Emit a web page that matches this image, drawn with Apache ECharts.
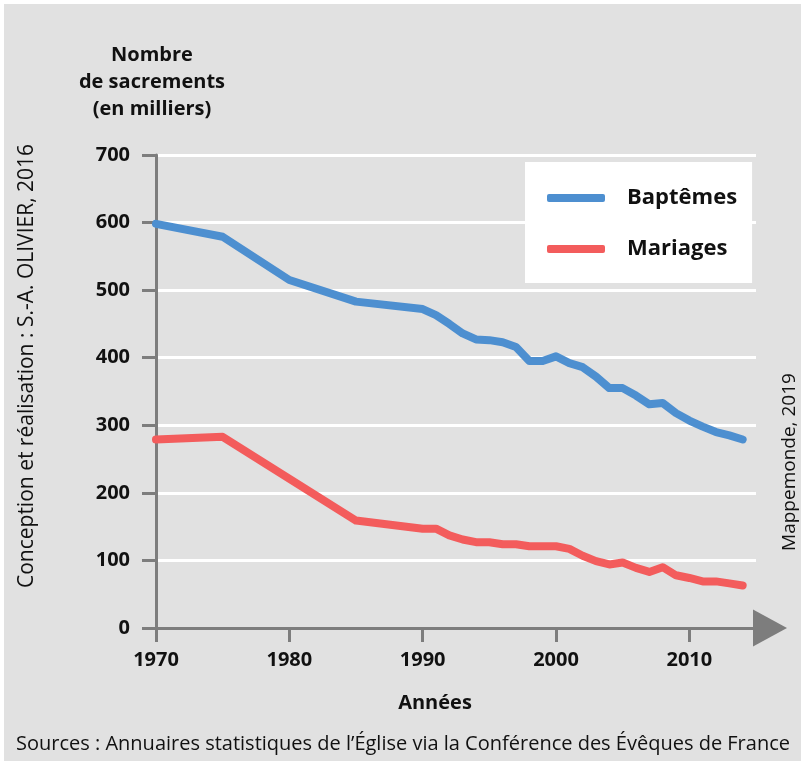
<!DOCTYPE html>
<html lang="fr">
<head>
<meta charset="utf-8">
<title>Nombre de sacrements en France, 1970-2014</title>
<script src="https://cdn.jsdelivr.net/npm/echarts@6/dist/echarts.min.js"></script>
<style>
  html, body { margin: 0; padding: 0; background: #ffffff; }
  #chart { width: 801px; height: 761px; }
</style>
</head>
<body>
<div id="chart"></div>
<script>
// Baptêmes (milliers)
const baptemeYears = [1970, 1975, 1980, 1985, 1990, 1991, 1992, 1993, 1994, 1995, 1996, 1997, 1998, 1999,
  2000, 2001, 2002, 2003, 2004, 2005, 2006, 2007, 2008, 2009, 2010, 2011, 2012, 2013, 2014];
const baptemeValues = [598, 579, 515, 483, 472, 463, 450, 436, 427, 426, 423, 416, 395, 395,
  402, 392, 386, 372, 355, 355, 344, 331, 333, 318, 307, 298, 290, 285, 279];

// Mariages (milliers)
const mariageYears = [1970, 1975, 1985, 1990, 1991, 1992, 1993, 1994, 1995, 1996, 1997, 1998, 1999,
  2000, 2001, 2002, 2003, 2004, 2005, 2006, 2007, 2008, 2009, 2010, 2011, 2012, 2013, 2014];
const mariageValues = [279, 283, 159, 147, 147, 137, 131, 127, 127, 124, 124, 121, 121,
  121, 117, 107, 99, 94, 97, 89, 83, 90, 78, 74, 69, 69, 66, 63];

const seriesNames = ['Baptêmes', 'Mariages'];
const seriesColors = ['#4d8fd0', '#f35c5c'];
const yTicks = { min: 0, max: 700, step: 100 };
const xTicks = { min: 1970, max: 2015, step: 10 };

const titleLines = ['Nombre', 'de sacrements', '(en milliers)'];
const xAxisTitle = 'Années';
const sourceText = 'Sources : Annuaires statistiques de l\u2019Église via la Conférence des Évêques de France';
const creditLeft = 'Conception et réalisation : S.-A. OLIVIER, 2016';
const creditRight = 'Mappemonde, 2019';

const FONT = '"Open Sans", "Liberation Sans", sans-serif';
const AXIS_GRAY = '#7d7d7d';
const INK = '#111111';

const pairs = (xs, ys) => xs.map((x, i) => [x, ys[i]]);

const chart = echarts.init(document.getElementById('chart'), null, { renderer: 'canvas' });

const option = {
  animation: false,
  backgroundColor: '#e1e1e1',
  grid: { left: 156, right: 45, top: 155, bottom: 133, containLabel: false },
  legend: {
    orient: 'vertical',
    left: 525,
    top: 162,
    backgroundColor: '#ffffff',
    padding: [23, 15, 21, 22],
    itemWidth: 58,
    itemHeight: 8,
    itemGap: 25,
    icon: 'roundRect',
    textStyle: {
      fontFamily: FONT, fontWeight: 'bold', fontSize: 22, color: INK,
      lineHeight: 26, padding: [0, 0, 0, 17]
    },
    data: seriesNames
  },
  xAxis: {
    type: 'value',
    min: xTicks.min,
    max: xTicks.max,
    interval: xTicks.step,
    axisLine: { show: true, lineStyle: { color: AXIS_GRAY, width: 3 } },
    axisTick: { show: true, length: 14, lineStyle: { color: AXIS_GRAY, width: 3 } },
    axisLabel: {
      margin: 22,
      fontFamily: FONT, fontWeight: 'bold', fontSize: 20, color: INK,
      formatter: v => (v % xTicks.step === 0 ? String(v) : '')
    },
    splitLine: { show: false }
  },
  yAxis: {
    type: 'value',
    min: yTicks.min,
    max: yTicks.max,
    interval: yTicks.step,
    axisLine: { show: true, lineStyle: { color: AXIS_GRAY, width: 3 } },
    axisTick: { show: true, length: 14, lineStyle: { color: AXIS_GRAY, width: 3 } },
    axisLabel: {
      margin: 26,
      fontFamily: FONT, fontWeight: 'bold', fontSize: 20, color: INK
    },
    splitLine: { show: true, lineStyle: { color: '#ffffff', width: 3 } }
  },
  series: [
    {
      name: seriesNames[0],
      type: 'line',
      data: pairs(baptemeYears, baptemeValues),
      showSymbol: false,
      color: seriesColors[0],
      lineStyle: { width: 8, cap: 'round', join: 'round' },
      z: 3
    },
    {
      name: seriesNames[1],
      type: 'line',
      data: pairs(mariageYears, mariageValues),
      showSymbol: false,
      color: seriesColors[1],
      lineStyle: { width: 8, cap: 'round', join: 'round' },
      z: 3
    }
  ]
};

chart.setOption(option);

// Arrow head at the end of the time axis, placed from the axis scale
const [axisEndX, axisY] = chart.convertToPixel({ gridIndex: 0 }, [xTicks.max, yTicks.min]);
const arrowBase = axisEndX - 3;

chart.setOption({
  graphic: [
    // white frame on the top and left edges
    { type: 'rect', left: 0, top: 0, shape: { width: 801, height: 4 }, style: { fill: '#ffffff' }, z: 100, silent: true },
    { type: 'rect', left: 0, top: 0, shape: { width: 4, height: 761 }, style: { fill: '#ffffff' }, z: 100, silent: true },
    {
      type: 'polygon',
      shape: { points: [[arrowBase, axisY - 18.5], [arrowBase + 34, axisY], [arrowBase, axisY + 18.5]] },
      style: { fill: AXIS_GRAY },
      z: 50,
      silent: true
    },
    {
      type: 'text',
      x: 152, y: 42,
      style: {
        text: titleLines.join('\n'),
        font: 'bold 20px ' + FONT,
        lineHeight: 27,
        fill: INK,
        align: 'center',
        verticalAlign: 'top'
      },
      silent: true
    },
    {
      type: 'text',
      x: 435, y: 703,
      style: { text: xAxisTitle, font: 'bold 20px ' + FONT, fill: INK, align: 'center', verticalAlign: 'middle' },
      silent: true
    },
    {
      type: 'text',
      x: 403, y: 744,
      style: { text: sourceText, font: '20px ' + FONT, fill: INK, align: 'center', verticalAlign: 'middle' },
      silent: true
    },
    {
      type: 'text',
      x: 27, y: 366,
      rotation: Math.PI / 2,
      style: { text: creditLeft, font: '21px ' + FONT, fill: INK, align: 'center', verticalAlign: 'middle' },
      silent: true
    },
    {
      type: 'text',
      x: 790, y: 462,
      rotation: Math.PI / 2,
      style: { text: creditRight, font: '19px ' + FONT, fill: INK, align: 'center', verticalAlign: 'middle' },
      silent: true
    }
  ]
});
</script>
</body>
</html>
